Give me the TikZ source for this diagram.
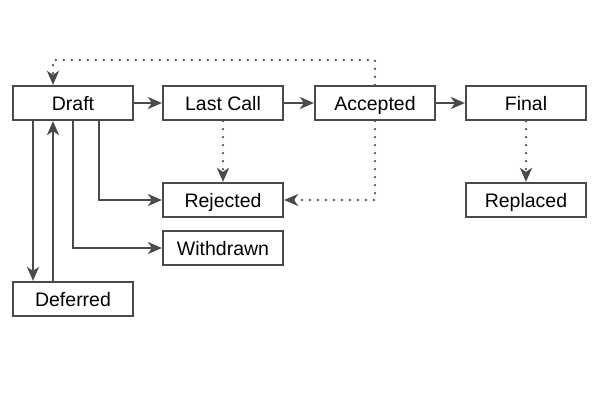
\documentclass[tikz,border=0pt]{standalone}
\usepackage{fontspec}
\setmainfont{Liberation Sans}
\usetikzlibrary{arrows.meta}
\definecolor{ln}{HTML}{4A4A4A}
\begin{document}
\begin{tikzpicture}[x=1pt,y=-1pt,
  state/.style={draw=ln,line width=2.2pt,minimum width=120pt,minimum height=34pt,inner sep=0pt,
    text height=15pt,text depth=0pt,
    font=\fontsize{19.5}{22}\selectfont,text=black},
  conn/.style={draw=ln,line width=2.2pt,-{Stealth[length=14pt,width=12pt,inset=4pt]}},
  dotconn/.style={conn,line cap=round,dash pattern=on 0pt off 8pt,line width=2.6pt}]
\useasboundingbox (0,0) rectangle (600,400);
\node[state] (draft) at (73,103) {Draft};
\node[state] (lastcall) at (223,103) {Last Call};
\node[state] (accepted) at (375,103) {Accepted};
\node[state] (final) at (526,103) {Final};
\node[state] (replaced) at (526,200) {Replaced};
\node[state] (rejected) at (223,200) {Rejected};
\node[state] (withdrawn) at (223,248) {Withdrawn};
\node[state] (deferred) at (73,299) {Deferred};
\draw[conn] (draft) -- (lastcall);
\draw[conn] (lastcall) -- (accepted);
\draw[conn] (accepted) -- (final);
\draw[conn] ([xshift=-40pt]draft.south) -- ([xshift=-40pt]deferred.north);
\draw[conn] ([xshift=-20pt]deferred.north) -- ([xshift=-20pt]draft.south);
\draw[conn] (draft.south) |- (withdrawn.west);
\draw[conn] ([xshift=26pt]draft.south) |- (rejected.west);
\draw[dotconn] (lastcall) -- (rejected);
\draw[dotconn] (final) -- (replaced);
\draw[dotconn] (accepted.south) |- (rejected.east);
\coordinate (topc) at (375,60);
\draw[dotconn] (accepted.north) -- (topc) -| ([xshift=-20pt]draft.north);
\end{tikzpicture}
\end{document}
